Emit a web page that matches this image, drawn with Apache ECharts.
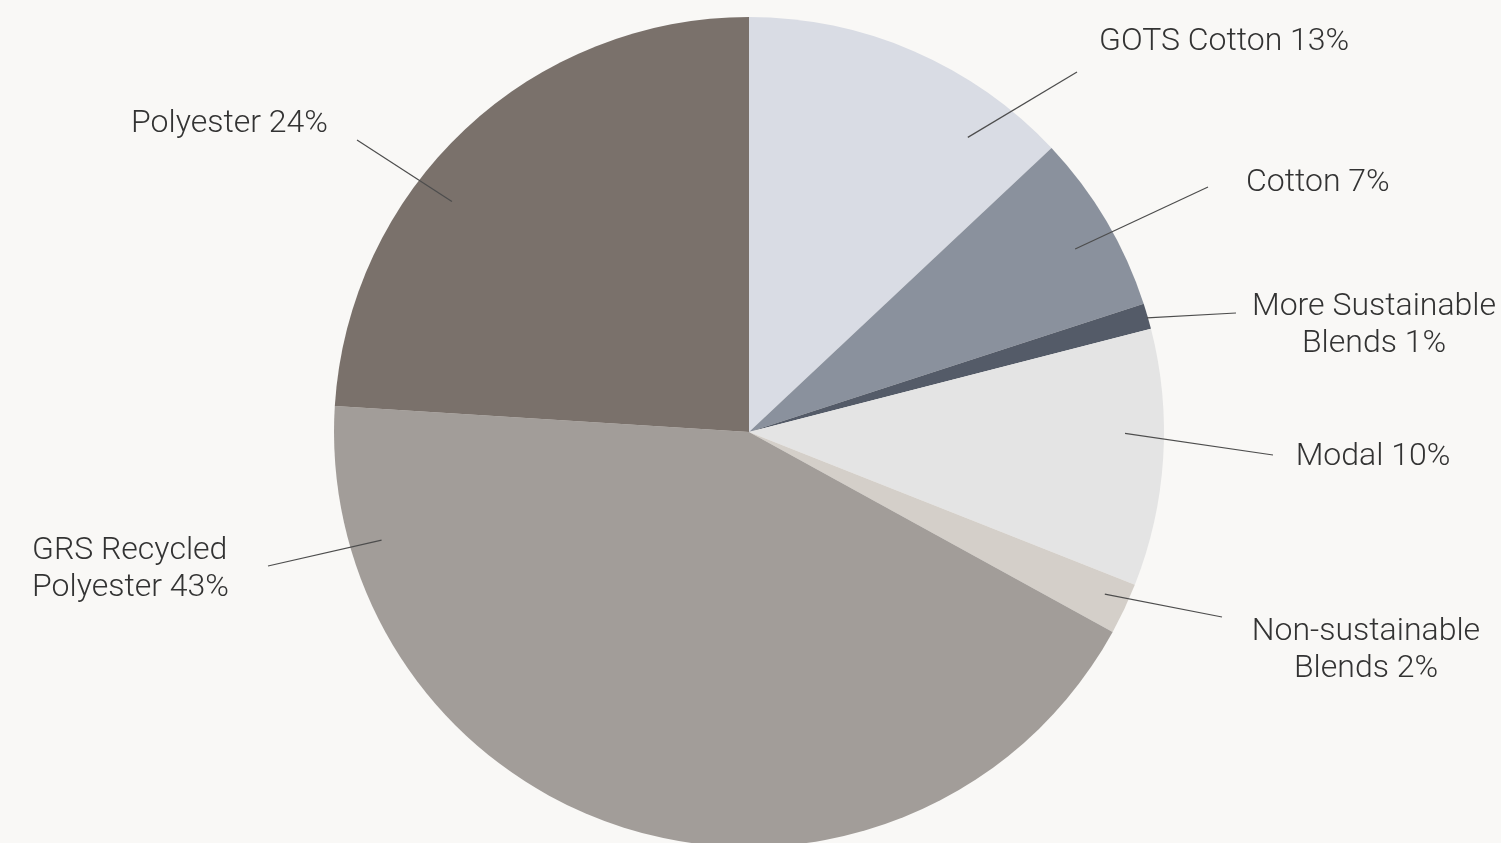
<!DOCTYPE html>
<html>
<head>
<meta charset="utf-8">
<script src="https://cdn.jsdelivr.net/npm/echarts@6/dist/echarts.min.js"></script>
<style>
  html, body { margin: 0; padding: 0; background: #f9f8f6; }
  #chart { width: 1501px; height: 843px; }
</style>
</head>
<body>
<div id="chart"></div>
<script>
// ---- data ----
const categories = ['GOTS Cotton', 'Cotton', 'More Sustainable Blends', 'Modal', 'Non-sustainable Blends', 'GRS Recycled Polyester', 'Polyester'];
const shares = [13, 7, 1, 10, 2, 43, 24];

// ---- styles / layout ----
const sliceColors = ['#d9dce4', '#8a919d', '#545b68', '#e4e4e4', '#d4cfc9', '#a29d99', '#7a716b'];
const PIE_CENTER = [749, 432];
const PIE_RADIUS = 415;
// wrapAfter: number of words on first line (0 = single line)
// lineFrom: [angle clockwise from top (deg), distance from centre (px)]
const labelPlacement = [
  { x: 1099, y: 42,    align: 'left',   wrapAfter: 0, lineFrom: [36.6, 367], lineTo: [1077, 72] },
  { x: 1246, y: 183,   align: 'left',   wrapAfter: 0, lineFrom: [60.7, 374], lineTo: [1208, 187] },
  { x: 1374, y: 325,   align: 'center', wrapAfter: 2, lineFrom: [74.0, 414], lineTo: [1236, 313] },
  { x: 1373, y: 457,   align: 'center', wrapAfter: 0, lineFrom: [90.2, 376], lineTo: [1273, 455] },
  { x: 1366, y: 650,   align: 'center', wrapAfter: 1, lineFrom: [114.5, 391], lineTo: [1222, 617] },
  { x: 32,   y: 569.5, align: 'left',   wrapAfter: 2, lineFrom: [253.6, 383], lineTo: [268, 566] },
  { x: 131,  y: 123.5, align: 'left',   wrapAfter: 0, lineFrom: [307.8, 376], lineTo: [357, 140] }
];

function polarPoint(angleDeg, r) {
  const a = angleDeg * Math.PI / 180;
  return [PIE_CENTER[0] + r * Math.sin(a), PIE_CENTER[1] - r * Math.cos(a)];
}

const chart = echarts.init(document.getElementById('chart'), null, { renderer: 'canvas' });

const sliceData = categories.map((name, i) => ({
  name: name,
  value: shares[i],
  itemStyle: { color: sliceColors[i] }
}));
const labelData = categories.map((name, i) => ({ name: name, value: shares[i] }));

const commonPie = {
  type: 'pie',
  center: PIE_CENTER,
  radius: [0, PIE_RADIUS],
  startAngle: 90,
  clockwise: true,
  avoidLabelOverlap: false,
  emphasis: { disabled: true },
  silent: true
};

chart.setOption({
  backgroundColor: '#f9f8f6',
  animation: false,
  series: [
    Object.assign({}, commonPie, {
      z: 1,
      data: sliceData,
      itemStyle: { borderWidth: 0 },
      label: { show: false },
      labelLine: { show: false }
    }),
    Object.assign({}, commonPie, {
      z: 5,
      data: labelData,
      itemStyle: { color: 'rgba(0,0,0,0)', borderWidth: 0 },
      label: {
        show: true,
        position: 'outside',
        color: '#333333',
        fontFamily: 'Roboto',
        fontWeight: 300,
        fontSize: 32,
        lineHeight: 37,
        formatter: function (p) {
          const pl = labelPlacement[p.dataIndex];
          const txt = p.name + ' ' + p.value + '%';
          if (!pl.wrapAfter) return txt;
          const all = txt.split(' ');
          return all.slice(0, pl.wrapAfter).join(' ') + '\n' + all.slice(pl.wrapAfter).join(' ');
        }
      },
      labelLine: {
        show: true,
        smooth: false,
        lineStyle: { color: '#4d4d4d', width: 1.2 }
      },
      labelLayout: function (params) {
        const pl = labelPlacement[params.dataIndex];
        const start = polarPoint(pl.lineFrom[0], pl.lineFrom[1]);
        return {
          x: pl.x,
          y: pl.y,
          align: pl.align,
          verticalAlign: 'middle',
          labelLinePoints: [start, pl.lineTo, pl.lineTo]
        };
      }
    })
  ]
});
</script>
</body>
</html>
